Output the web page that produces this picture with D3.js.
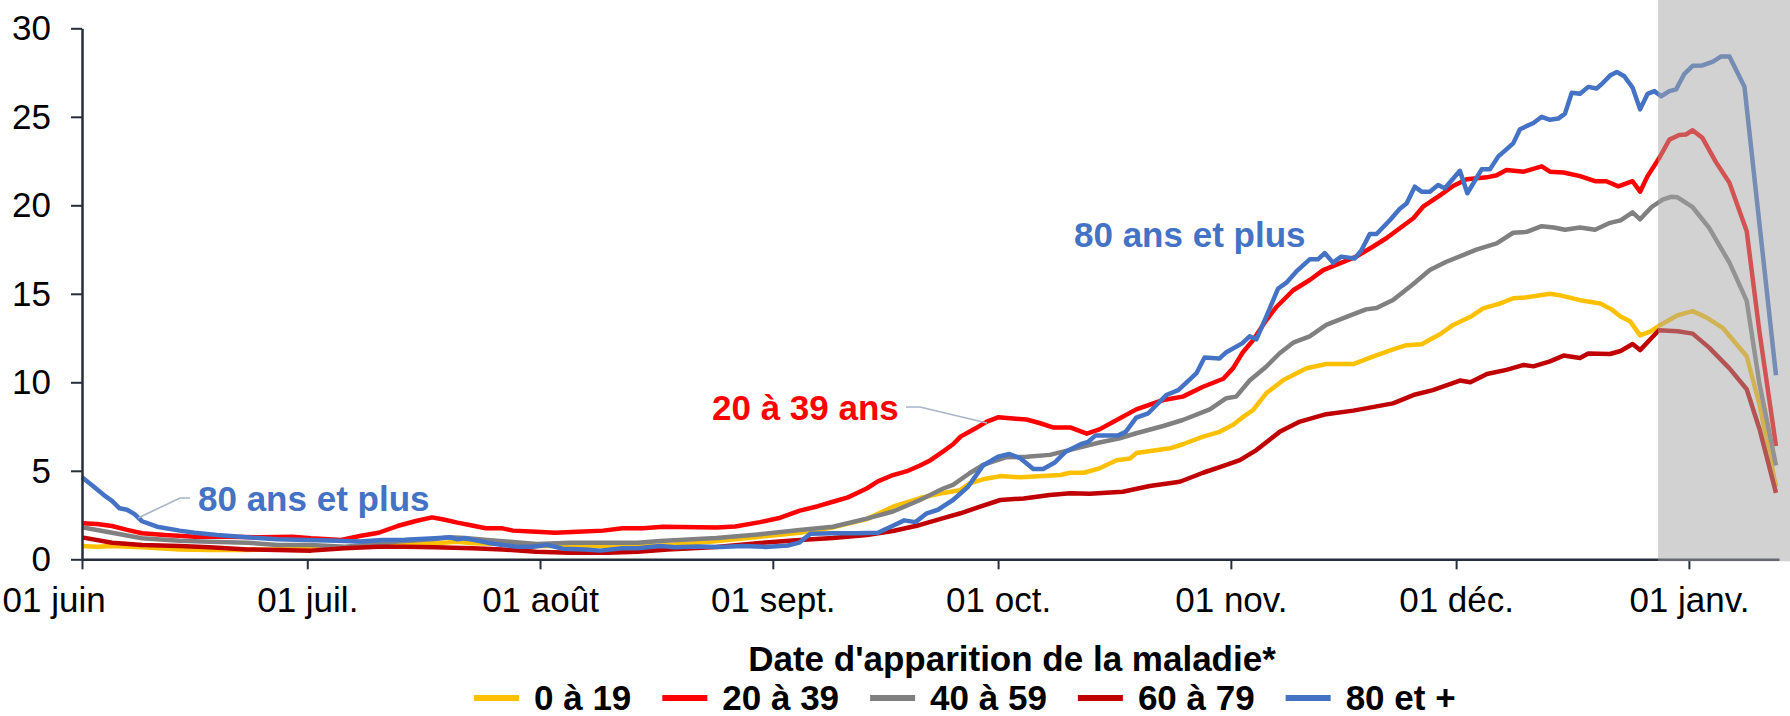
<!DOCTYPE html>
<html><head><meta charset="utf-8">
<script src="https://cdn.jsdelivr.net/npm/d3@7"></script>
<style>
body{margin:0;background:#fff}
svg{display:block}
text{font-family:"Liberation Sans",Arial,Helvetica,sans-serif}
</style>
</head><body>
<svg id="chart" width="1790" height="716"></svg>
<script>
// ---------------- DATA ----------------
const startDate = "2020-06-01";          // day 0
const endDay = 226;                      // axis end (days after start)
const shadedFromDay = 209.9;             // grey "incomplete data" zone start
const monthTicks = ["2020-06-01","2020-07-01","2020-08-01","2020-09-01","2020-10-01","2020-11-01","2020-12-01","2021-01-01"];
const monthLabels = ["01 juin","01 juil.","01 août","01 sept.","01 oct.","01 nov.","01 déc.","01 janv."];
const yTicks = [0,5,10,15,20,25,30];
const seriesNames = ["0 à 19","20 à 39","40 à 59","60 à 79","80 et +"];
const seriesColors = ["#FFC000","#FF0000","#808080","#C00000","#4472C4"];
const xTitle = "Date d'apparition de la maladie*";

// [days after 1 June, incidence]
const age0to19 = [[0,0.75],[2,0.71],[4,0.75],[8,0.68],[13,0.56],[17,0.53],[22,0.53],[26,0.56],[30,0.62],[35,0.68],[39,0.75],[42,0.86],[47,0.9],[50,0.99],[52,0.9],[56,0.86],[60.5,0.75],[67,0.75],[74,0.75],[77.4,0.8],[84,1.0],[90.3,1.28],[95.6,1.5],[100,1.8],[104.5,2.27],[108,2.97],[111.6,3.46],[114.7,3.75],[116.9,3.9],[118.2,4.29],[120,4.52],[122.3,4.7],[125,4.63],[130.3,4.76],[131.6,4.89],[133.4,4.89],[135.5,5.14],[137.8,5.6],[139.6,5.7],[140.4,6.0],[144.9,6.27],[146.6,6.5],[149.3,6.93],[151.5,7.2],[153.3,7.6],[154.5,8.0],[156,8.45],[157.7,9.38],[160,10.13],[161.7,10.5],[163.1,10.79],[165.7,11.03],[169.3,11.03],[171.9,11.45],[174.6,11.86],[176.4,12.1],[178.4,12.15],[180.9,12.73],[182.6,13.24],[184.9,13.7],[186.6,14.18],[188.9,14.46],[190.6,14.75],[192.4,14.8],[195.5,15.0],[197,14.9],[199.5,14.64],[202.2,14.45],[203.7,14.12],[204.9,13.72],[206.2,13.43],[207.5,12.65],[208.9,12.88],[210.2,13.24],[212.5,13.79],[214.5,14.02],[216.3,13.67],[218.5,13.08],[221.7,11.47],[223.4,8.73],[225.6,4.1]];
const age20to39 = [[0,2.03],[2,1.99],[4,1.88],[6,1.66],[8,1.47],[11,1.37],[15,1.28],[19,1.28],[24,1.24],[28,1.28],[30.5,1.19],[34.5,1.09],[37,1.32],[39.5,1.5],[42,1.88],[44.6,2.18],[46.6,2.37],[48,2.26],[50,2.07],[51.6,1.94],[53.8,1.75],[56,1.75],[57.4,1.62],[60.5,1.56],[63,1.5],[66,1.56],[69.4,1.62],[72,1.75],[74.7,1.75],[77.4,1.84],[84.5,1.8],[87,1.85],[90.3,2.1],[93,2.35],[95.6,2.75],[98,3.0],[100,3.25],[102,3.5],[104.5,4.0],[106,4.4],[108,4.76],[110,5.0],[111.6,5.3],[113,5.6],[114.7,6.1],[116,6.5],[117,6.93],[119,7.4],[120.5,7.78],[122,8.02],[124,7.95],[125.8,7.9],[127.5,7.7],[129.3,7.45],[131.6,7.45],[133.8,7.1],[135.5,7.34],[137.8,7.87],[140.4,8.47],[144,9.0],[146.6,9.19],[149.3,9.75],[152,10.2],[153.3,10.8],[154.6,11.7],[156,12.4],[157.7,13.5],[159.1,14.27],[161.3,15.2],[163.5,15.78],[165.3,16.34],[167.5,16.72],[169.7,17.1],[171.9,17.66],[173.7,18.14],[175.5,18.7],[177.3,19.27],[178.6,19.92],[180.9,20.58],[182.6,21.09],[184.4,21.47],[187.1,21.58],[188.4,21.7],[189.7,22.0],[192,21.9],[194.4,22.2],[195.5,21.9],[197.3,21.85],[199.5,21.65],[201.5,21.36],[203,21.36],[204.6,21.07],[206.5,21.36],[207.5,20.77],[208.5,21.65],[210,22.64],[211.4,23.71],[212.7,23.97],[213.6,24.0],[214.5,24.24],[215.8,23.81],[217.6,22.44],[219.4,21.27],[221.7,18.53],[223.4,12.84],[225.6,6.4]];
const age40to59 = [[0,1.81],[4,1.5],[8,1.19],[13,1.05],[17,0.99],[22,0.94],[26,0.81],[30.5,0.81],[35,0.71],[39.4,0.86],[42,1.0],[47,1.15],[49,1.24],[51,1.2],[54,1.09],[57,0.99],[60.5,0.86],[65,0.94],[69,0.94],[74,0.94],[77,1.03],[84.5,1.2],[90,1.4],[95.6,1.65],[100,1.84],[104.5,2.3],[108,2.7],[111.6,3.35],[114.7,4.0],[116,4.2],[118.2,4.86],[120,5.33],[123,5.76],[125.8,5.8],[128.9,5.9],[132.4,6.27],[135.5,6.6],[138.2,6.84],[140.4,7.12],[144,7.53],[146.6,7.87],[150.2,8.47],[152.4,9.1],[153.7,9.19],[155.5,10.1],[157.7,10.88],[159.5,11.64],[161.3,12.24],[163.5,12.6],[165.7,13.24],[168.4,13.7],[171,14.12],[172.4,14.2],[174.6,14.65],[177.3,15.55],[179.5,16.34],[181.7,16.81],[184,17.2],[185.7,17.5],[188.4,17.85],[190.6,18.45],[192.4,18.5],[194.4,18.82],[196,18.75],[197.5,18.62],[199.5,18.75],[201.5,18.62],[203.5,19.01],[204.9,19.15],[206.5,19.6],[207.5,19.21],[209,19.89],[210.5,20.32],[211.6,20.48],[212.5,20.45],[214.5,19.89],[216.7,18.72],[219.4,16.76],[221.7,14.6],[223.4,9.9],[225.6,5.3]];
const age60to79 = [[0,1.24],[4,0.94],[8,0.81],[13,0.75],[17,0.68],[22,0.56],[26,0.53],[30.5,0.49],[35,0.62],[39.4,0.71],[43,0.71],[47,0.68],[52,0.62],[56,0.56],[60.5,0.43],[65,0.37],[70,0.37],[74,0.43],[78,0.55],[84.5,0.7],[90.3,0.92],[95.6,1.09],[100,1.2],[104.5,1.37],[108,1.6],[111.6,1.94],[114.7,2.33],[117,2.6],[119.6,2.97],[122.3,3.35],[125.4,3.44],[128.9,3.63],[131.6,3.73],[134.2,3.7],[138.6,3.82],[142.2,4.14],[146.2,4.38],[149.3,4.89],[152.4,5.33],[154.2,5.6],[156.4,6.17],[159.5,7.2],[162.2,7.78],[165.7,8.2],[169.3,8.4],[174.6,8.81],[177.3,9.28],[179.9,9.56],[183.5,10.1],[184.9,10.0],[187.1,10.47],[189.7,10.7],[192,10.98],[193.3,10.9],[195.5,11.18],[197.3,11.51],[199.5,11.37],[200.6,11.63],[203.5,11.6],[204.9,11.77],[206.5,12.16],[207.5,11.82],[208.9,12.45],[210,12.94],[212.5,12.88],[214.5,12.75],[216.7,11.96],[219.4,10.79],[221.7,9.61],[223.4,7.36],[225.6,3.75]];
const age80plus = [[0,4.63],[1,4.3],[3,3.6],[4,3.3],[5,2.88],[6,2.8],[7,2.55],[8,2.15],[10,1.84],[13,1.62],[15,1.5],[18,1.37],[22,1.24],[26,1.13],[30,1.09],[34,1.05],[37,1.0],[40,1.09],[43,1.1],[47,1.19],[49,1.24],[50,1.13],[51,1.19],[54,0.94],[56,0.81],[58,0.71],[60,0.71],[62,0.81],[64,0.6],[67,0.56],[69,0.49],[72,0.62],[74,0.62],[77,0.75],[79,0.68],[82,0.72],[85,0.7],[88,0.75],[91,0.7],[94,0.78],[95.5,0.94],[97,1.45],[100,1.47],[103,1.47],[106,1.5],[108,1.9],[109.5,2.2],[111,2.1],[112.5,2.6],[114,2.8],[116,3.35],[118,4.1],[119,4.7],[120,5.3],[122,5.8],[123.5,5.95],[125,5.7],[126.7,5.1],[128,5.1],[129.5,5.45],[131,6.08],[133,6.5],[134,6.64],[135,7.0],[138,7.0],[139,7.2],[140.4,8.0],[142,8.25],[144.4,9.28],[146,9.56],[148.4,10.5],[149.5,11.4],[151.5,11.35],[152.4,11.7],[154.5,12.2],[155.5,12.6],[156.4,12.43],[157.7,13.7],[159.3,15.3],[160.4,15.63],[161.7,16.25],[163.5,16.95],[164.6,16.95],[165.5,17.3],[166.6,16.76],[167.7,17.1],[169.5,17.0],[170.4,17.47],[171.5,18.38],[172.4,18.38],[174.2,19.17],[175.5,19.8],[176.4,20.1],[177.5,21.05],[178.4,20.77],[179.5,20.77],[180.6,21.15],[181.5,20.96],[183.5,21.95],[184.5,20.68],[186.4,22.03],[187.5,22.03],[188.6,22.75],[190.6,23.5],[191.5,24.3],[193.3,24.65],[194.4,25.0],[195.5,24.83],[196.6,24.9],[197.5,25.18],[198.4,26.36],[199.5,26.3],[200.6,26.69],[201.7,26.6],[202.4,26.85],[203.5,27.33],[204.4,27.53],[205.4,27.29],[206.5,26.65],[207.5,25.42],[208.5,26.3],[209.4,26.45],[210.3,26.16],[211.4,26.45],[212.3,26.55],[213.4,27.43],[214.5,27.88],[215.8,27.9],[217.2,28.12],[218.3,28.41],[219.4,28.41],[221.4,26.7],[225.6,10.4]];
const allSeries = [age0to19, age20to39, age40to59, age60to79, age80plus];

// annotations: label, colour, text position, leader polyline
const annotations = [
  {text:"80 ans et plus", color:"#4472C4", x:198, y:511, leader:[[190,498],[180,498],[138,518]]},
  {text:"20 à 39 ans", color:"#FF0000", x:712, y:420, leader:[[906,407],[920,407],[987,423]]},
  {text:"80 ans et plus", color:"#4472C4", x:1074, y:247, leader:null}
];

// ---------------- CHART ----------------
const svg = d3.select("#chart");
const FONT = 35;
const axisColor = "#262e3b";
const t0 = d3.utcParse("%Y-%m-%d")(startDate);
const dayToDate = d => new Date(t0.getTime() + d * 86400000);

const x = d3.scaleUtc().domain([t0, dayToDate(endDay)]).range([82, 1779]);
const y = d3.scaleLinear().domain([0, 30]).range([559.3, 28.3]);

// lines
const line = d3.line()
  .x(p => x(dayToDate(p[0])))
  .y(p => y(p[1]));

svg.append("g").selectAll("path")
  .data(allSeries)
  .join("path")
  .attr("d", line)
  .attr("fill", "none")
  .attr("stroke", (d, i) => seriesColors[i])
  .attr("stroke-width", 4.5)
  .attr("stroke-linejoin", "round")
  .attr("stroke-linecap", "butt");

// axes
const tickDates = monthTicks.map(d3.utcParse("%Y-%m-%d"));
const xAxis = d3.axisBottom(x).tickValues(tickDates)
  .tickFormat((d, i) => monthLabels[i]).tickSize(10).tickSizeOuter(0).tickPadding(18);
const gx = svg.append("g").attr("transform", `translate(0,${y(0)})`).call(xAxis);
gx.selectAll("text").attr("font-size", FONT).attr("fill", "#000")
  .attr("font-family", '"Liberation Sans",Arial,sans-serif');
gx.selectAll(".tick").filter((d, i) => i === 0).select("text")
  .attr("text-anchor", "start").attr("x", -80);

const yAxis = d3.axisLeft(y).tickValues(yTicks).tickSize(11).tickSizeOuter(0).tickPadding(20);
const gy = svg.append("g").attr("transform", `translate(${x(t0)},0)`).call(yAxis);
gy.selectAll("text").attr("font-size", FONT).attr("fill", "#000")
  .attr("font-family", '"Liberation Sans",Arial,sans-serif');

[gx, gy].forEach(g => {
  g.select(".domain").attr("stroke", axisColor).attr("stroke-width", 2.5);
  g.selectAll(".tick line").attr("stroke", axisColor).attr("stroke-width", 2);
});

// annotations
annotations.forEach(a => {
  if (a.leader) {
    svg.append("path")
      .attr("d", d3.line()(a.leader))
      .attr("fill", "none").attr("stroke", "#a7b5c7").attr("stroke-width", 1.6);
  }
  svg.append("text").attr("x", a.x).attr("y", a.y)
    .attr("font-size", FONT).attr("font-weight", "bold").attr("fill", a.color)
    .text(a.text);
});

// grey overlay zone (incomplete data)
svg.append("rect")
  .attr("x", x(dayToDate(shadedFromDay))).attr("y", 0)
  .attr("width", 1790 - x(dayToDate(shadedFromDay))).attr("height", y(0) + 2)
  .attr("fill", "rgb(166,166,166)").attr("fill-opacity", 0.5);

// x title
svg.append("text").attr("x", 1012).attr("y", 671).attr("text-anchor", "middle")
  .attr("font-size", FONT).attr("font-weight", "bold").attr("fill", "#000")
  .text(xTitle);

// legend
const legend = svg.append("g");
let cx = 474;
seriesNames.forEach((name, i) => {
  legend.append("line").attr("x1", cx).attr("x2", cx + 45).attr("y1", 698).attr("y2", 698)
    .attr("stroke", seriesColors[i]).attr("stroke-width", 6);
  const t = legend.append("text").attr("x", cx + 60).attr("y", 710)
    .attr("font-size", FONT).attr("font-weight", "bold").attr("fill", "#000").text(name);
  cx += 60 + t.node().getComputedTextLength() + 31;
});
</script>
</body></html>
